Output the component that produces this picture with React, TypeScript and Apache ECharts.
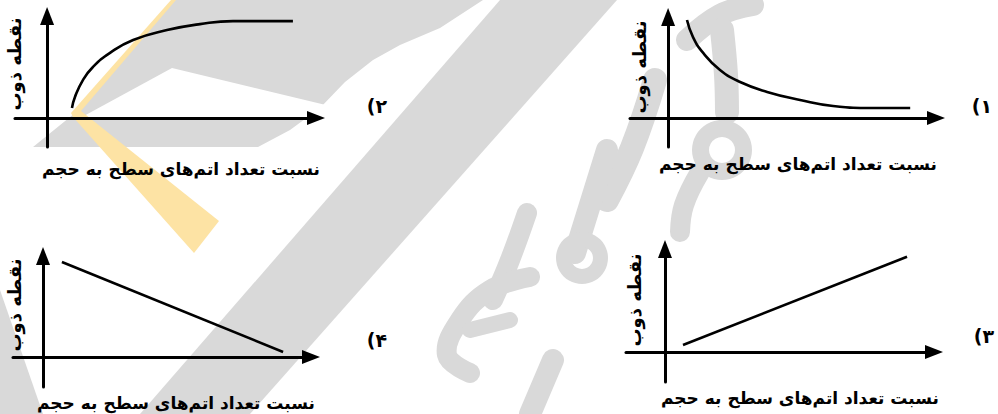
import React, { useEffect, useRef } from "react";
import * as echarts from "echarts";

// ---- texts ----
const xTitle = "نسبت تعداد اتم‌های سطح به حجم";
const yTitle = "نقطه ذوب";
// option numbers as they appear on the page: "(۱" ... (forced left-to-right order)
const panelLabels = ["\u202D(۱\u202C", "\u202D(۲\u202C", "\u202D(۳\u202C", "\u202D(۴\u202C"];

// ---- data (arbitrary units) ----
// panel 1 (top right): falling curve
const curve1X = [0.63, 0.83, 1.17, 1.73, 2.4, 3.3, 4.4, 5.5, 6.83, 8.07];
const curve1Y = [3.27, 2.7, 2.17, 1.6, 1.2, 0.87, 0.6, 0.4, 0.33, 0.33];
// panel 2 (top left): rising, saturating curve
const curve2X = [0.83, 0.93, 1.2, 1.53, 2.1, 2.87, 4.0, 5.1, 6.2, 8.2];
const curve2Y = [0.33, 0.7, 1.27, 1.7, 2.17, 2.6, 2.93, 3.13, 3.23, 3.23];
// panel 3 (bottom right): rising straight line
const line3X = [0.6, 8.07];
const line3Y = [0.23, 3.17];
// panel 4 (bottom left): falling straight line
const line4X = [0.63, 8.0];
const line4Y = [3.17, 0.17];

const zip = (xs: number[], ys: number[]) => xs.map((x, i) => [x, ys[i]]);

type Panel = {
  grid: { left: number; top: number; width: number; height: number };
  xr: [number, number];
  yr: [number, number];
  data: number[][];
  smooth: boolean;
  xTitlePos: [number, number];
  yTitlePos: [number, number];
  label: string;
  labelPos: [number, number];
};

const FONT = "DejaVu Sans";

const panels: Panel[] = [
  {
    grid: { left: 630, top: 17, width: 306, height: 130 },
    xr: [-1.27, 8.93], yr: [-0.97, 3.37],
    data: zip(curve1X, curve1Y), smooth: true,
    xTitlePos: [798, 164], yTitlePos: [639, 67],
    label: panelLabels[0], labelPos: [982, 106],
  },
  {
    grid: { left: 15, top: 16, width: 301, height: 131 },
    xr: [-1.07, 8.97], yr: [-0.97, 3.4],
    data: zip(curve2X, curve2Y), smooth: true,
    xTitlePos: [181, 169], yTitlePos: [14, 64],
    label: panelLabels[1], labelPos: [377, 106],
  },
  {
    grid: { left: 626, top: 249, width: 308, height: 133 },
    xr: [-1.3, 8.97], yr: [-1, 3.43],
    data: zip(line3X, line3Y), smooth: false,
    xTitlePos: [800, 398], yTitlePos: [634, 300],
    label: panelLabels[2], labelPos: [984, 336],
  },
  {
    grid: { left: 13, top: 256, width: 298, height: 131 },
    xr: [-1, 8.93], yr: [-1, 3.37],
    data: zip(line4X, line4Y), smooth: false,
    xTitlePos: [176, 403], yTitlePos: [14, 305],
    label: panelLabels[3], labelPos: [377, 340],
  },
];

const GRAY = "#d9d9d9";
const YELLOW = "#fde3a4";

function watermark(): any[] {
  const poly = (points: number[][], fill: string) => ({
    type: "polygon", z: -10, silent: true,
    shape: { points }, style: { fill },
  });
  const stroke = (points: number[][], w: number) => ({
    type: "polyline", z: -10, silent: true,
    shape: { points, smooth: 0.4 },
    style: { stroke: GRAY, lineWidth: w, lineCap: "round", lineJoin: "round", fill: null },
  });
  const ring = (cx: number, cy: number, r: number, r0: number) => ({
    type: "ring", z: -10, silent: true,
    shape: { cx, cy, r, r0 }, style: { fill: GRAY },
  });
  return [
    // top-left chevron
    poly([[33, 147], [75, 113], [173, 0], [483, 0], [440, 28], [400, 45], [373, 60], [345, 82], [320, 108], [290, 130], [258, 147]], GRAY),
    poly([[172, 68], [82, 117], [318, 117], [330, 106]], "#ffffff"),
    // yellow chevron
    poly([[171, 0], [176, 0], [81, 111], [219, 221], [194, 253], [73, 117], [71, 113]], YELLOW),
    // long diagonal band
    poly([[500, 0], [617, 0], [250, 414], [140, 414]], GRAY),
    poly([[0, 290], [43, 414], [0, 414]], GRAY),
    // calligraphy
    stroke([[687, 40], [720, 15], [753, 5]], 22),
    stroke([[722, 30], [726, 75], [727, 112]], 24),
    ring(722, 150, 30, 13),
    stroke([[700, 172], [684, 205], [680, 232]], 20),
    stroke([[655, 80], [632, 148], [607, 200]], 24),
    stroke([[607, 150], [575, 253]], 22),
    ring(582, 258, 26, 11),
    stroke([[527, 213], [510, 260], [493, 300]], 20),
    stroke([[530, 277], [490, 290], [460, 320], [447, 355], [470, 373]], 20),
    stroke([[470, 330], [510, 320]], 16),
    stroke([[553, 360], [530, 414]], 22),
  ];
}

export default function App() {
  const ref = useRef<HTMLDivElement>(null);
  useEffect(() => {
    if (!ref.current) return;
    const chart = echarts.init(ref.current, null, { renderer: "svg" });
    const axisLine = {
      onZero: true,
      symbol: ["none", "triangle"],
      symbolSize: [14, 18],
      lineStyle: { color: "#000", width: 3 },
    };
    const textEl = (text: string, pos: [number, number], size: number, rot = 0) => ({
      type: "text",
      z: 10,
      x: pos[0],
      y: pos[1],
      rotation: rot,
      style: {
        text,
        fontFamily: FONT,
        fontWeight: "bold",
        fontSize: size,
        fill: "#000",
        align: "center",
        verticalAlign: "middle",
      },
    });
    const option: any = {
      animation: false,
      backgroundColor: "#ffffff",
      grid: panels.map((p) => ({ ...p.grid, containLabel: false, outerBoundsMode: "none" })),
      xAxis: panels.map((p, i) => ({
        type: "value",
        gridIndex: i,
        min: p.xr[0],
        max: p.xr[1],
        axisLine,
        axisTick: { show: false },
        axisLabel: { show: false },
        splitLine: { show: false },
        z: 3,
      })),
      yAxis: panels.map((p, i) => ({
        type: "value",
        gridIndex: i,
        min: p.yr[0],
        max: p.yr[1],
        axisLine,
        axisTick: { show: false },
        axisLabel: { show: false },
        splitLine: { show: false },
        z: 3,
      })),
      series: panels.map((p, i) => ({
        type: "line",
        xAxisIndex: i,
        yAxisIndex: i,
        data: p.data,
        smooth: p.smooth,
        showSymbol: false,
        silent: true,
        lineStyle: { color: "#000", width: 2.6 },
        z: 4,
      })),
      graphic: [
        ...watermark(),
        ...panels.map((p) => textEl(xTitle, p.xTitlePos, 17)),
        ...panels.map((p) => textEl(yTitle, p.yTitlePos, 18, Math.PI / 2)),
        ...panels.map((p) => textEl(p.label, p.labelPos, 19)),
      ],
    };
    chart.setOption(option);
    return () => chart.dispose();
  }, []);
  return (
    <div
      ref={ref}
      style={{ position: "fixed", left: 0, top: 0, width: 998, height: 414, background: "#fff" }}
    />
  );
}
